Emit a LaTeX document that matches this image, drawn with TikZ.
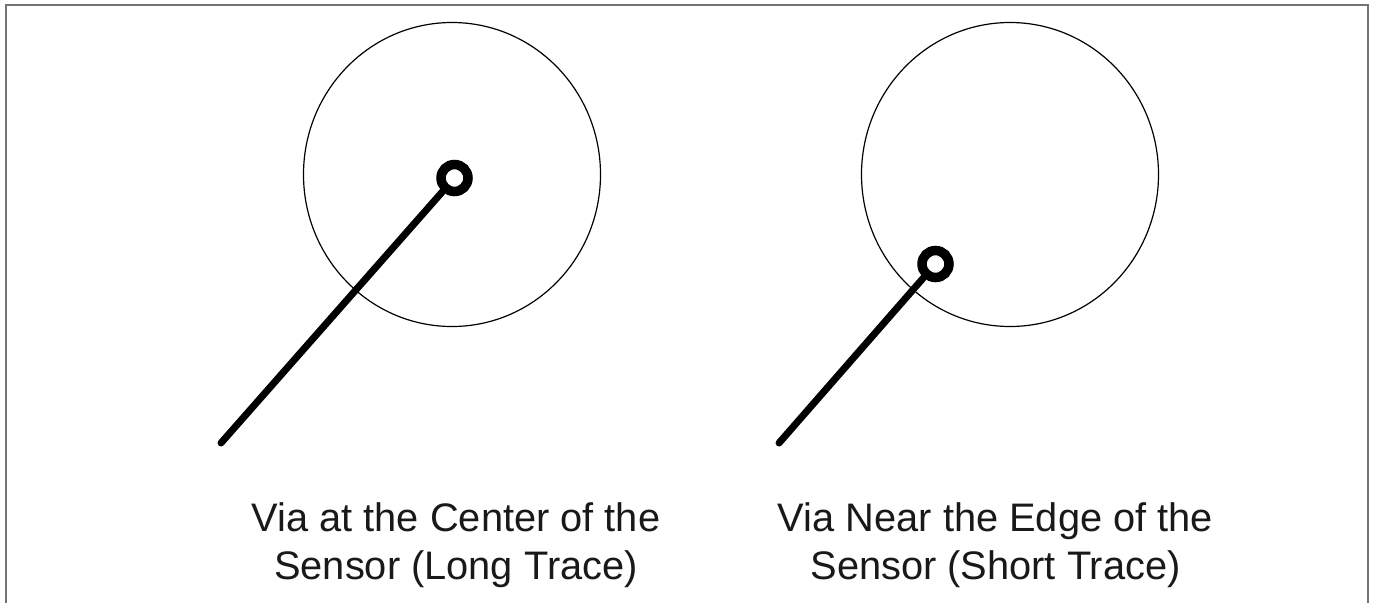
\documentclass[tikz,border=0pt]{standalone}
\usepackage{fontspec}
\usetikzlibrary{shapes.geometric}
\setmainfont{Liberation Sans}
\tikzset{
  sensor/.style={ellipse,draw=black,line width=1.2pt,minimum width=297pt,minimum height=304pt,inner sep=0pt},
  via/.style={circle,draw=black,fill=white,line width=9.5pt,minimum size=27pt,inner sep=0pt},
  trace/.style={draw=black,line width=7pt,line cap=round},
  frameline/.style={draw=black!55,line width=2pt},
  caption/.style={align=center,font=\fontsize{39.8}{48}\selectfont,text=black!90,inner sep=0pt}
}
\begin{document}
\begin{tikzpicture}[x=1pt,y=-1pt]
\useasboundingbox (0,0) rectangle (1373,603);
\fill[white] (0,0) rectangle (1373,603);
\coordinate (bl) at (6,603);
\coordinate (tl) at (6,5);
\coordinate (tr) at (1368,5);
\coordinate (br) at (1368,603);
\draw[frameline] (bl) -- (tl) -- (tr) -- (br);
\node[sensor] (s1) at (452,174.5) {};
\node[sensor] (s2) at (1010,174.5) {};
\coordinate (t1) at (221,443);
\coordinate (t2) at (779,443);
\node[via] (v1) at (454.5,178) {};
\node[via] (v2) at (935.5,264) {};
\draw[trace] (t1) -- (v1);
\draw[trace] (t2) -- (v2);
\node[caption] (c1) at (456,545) {Via at the Center of the\\Sensor (Long Trace)};
\node[caption] (c2) at (995.5,545) {Via Near the Edge of the\\Sensor (Short Trace)};
\end{tikzpicture}
\end{document}
